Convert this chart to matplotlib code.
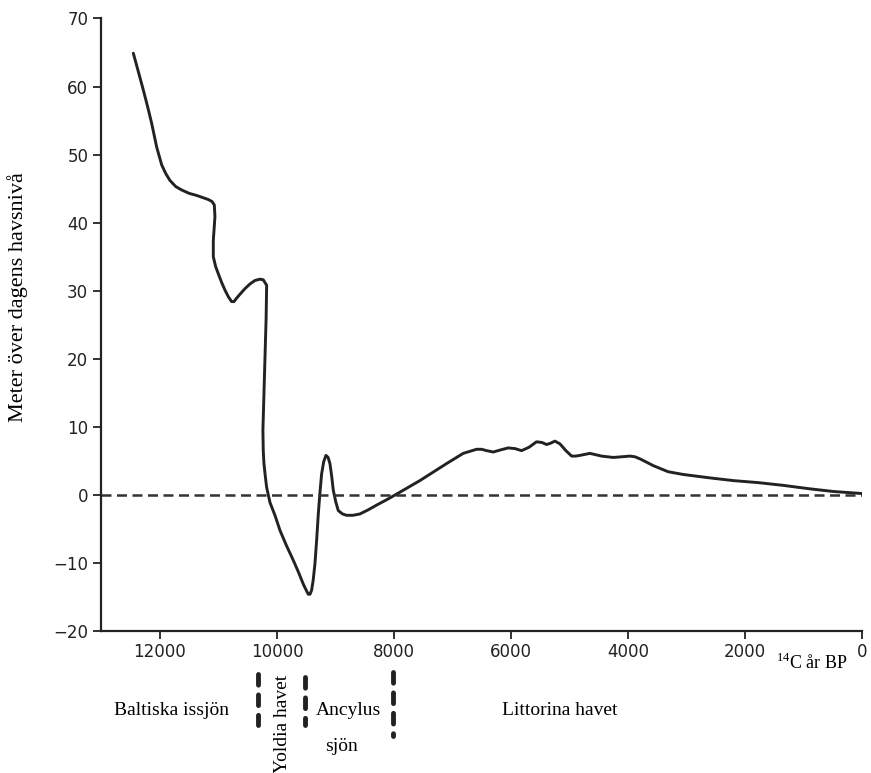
import numpy as np
import matplotlib
matplotlib.use("Agg")
import matplotlib.pyplot as plt

plt.rcParams["mathtext.fontset"] = "custom"
plt.rcParams["mathtext.rm"] = "Liberation Serif"

# shoreline curve (14C years BP, metres above present sea level)
years = [12456, 12370, 12285, 12210, 12142, 12056, 11971, 11900, 11829, 11730, 11629,
         11500, 11373, 11174, 11110, 11071, 11060, 11075, 11088, 11088, 11050, 11003,
         10945, 10889, 10830, 10775, 10735, 10690, 10620, 10547, 10460, 10376, 10290,
         10234, 10176, 10185, 10205, 10225, 10240, 10234, 10222, 10200, 10176, 10120,
         10030, 9949, 9840, 9721, 9630, 9550, 9500, 9465, 9435, 9407, 9380, 9350,
         9320, 9293, 9265, 9236, 9200, 9162, 9125, 9094, 9065, 9037, 8995, 8952,
         8880, 8809, 8700, 8581, 8440, 8296, 8100, 7897, 7556, 7100, 6815, 6587,
         6500, 6416, 6302, 6180, 6046, 5930, 5818, 5690, 5562, 5470, 5390, 5320,
         5248, 5162, 5060, 4962, 4890, 4821, 4650, 4450, 4251, 4100, 3966, 3880,
         3795, 3680, 3567, 3311, 3054, 2600, 2200, 1770, 1345, 900, 490, 0]
level = [64.9, 62.2, 59.5, 57.0, 54.6, 51.1, 48.5, 47.2, 46.2, 45.3, 44.8,
         44.3, 44.0, 43.4, 43.1, 42.6, 40.9, 39.0, 37.4, 35.0, 33.6, 32.5,
         31.2, 30.1, 29.1, 28.4, 28.4, 28.9, 29.6, 30.3, 31.0, 31.5, 31.7,
         31.6, 30.8, 26.0, 20.0, 14.0, 9.5, 6.5, 4.6, 2.8, 1.1, -1.1,
         -3.1, -5.2, -7.4, -9.6, -11.4, -13.1, -14.0, -14.6, -14.6, -14.0, -12.5, -10.1,
         -6.5, -2.8, 0.3, 3.1, 4.9, 5.8, 5.5, 4.6, 2.8, 0.7, -1.0, -2.3,
         -2.8, -3.0, -3.0, -2.8, -2.2, -1.5, -0.6, 0.4, 2.1, 4.6, 6.1, 6.7,
         6.7, 6.5, 6.3, 6.6, 6.9, 6.8, 6.5, 7.0, 7.8, 7.7, 7.4, 7.6,
         7.9, 7.5, 6.5, 5.7, 5.7, 5.8, 6.1, 5.7, 5.5, 5.6, 5.7, 5.6,
         5.3, 4.8, 4.3, 3.4, 3.0, 2.5, 2.1, 1.8, 1.4, 0.9, 0.5, 0.2]

xticks = [12000, 10000, 8000, 6000, 4000, 2000, 0]
yticks = [-20, -10, 0, 10, 20, 30, 40, 50, 60, 70]

# Baltic stages and the boundaries between them
stage_bounds = [10330, 9520, 8020]
stages = ["Baltiska issjön", "Yoldia havet", "Ancylus", "sjön", "Littorina havet"]
stage_x = [11800, 9897, 8780, 8900, 5160]
stage_y = [-31.7, -33.7, -31.7, -36.9, -31.7]
stage_rot = [0, 90, 0, 0, 0]

fig = plt.figure(figsize=(8.71, 7.73), dpi=100)
ax = fig.add_axes([0.1165, 0.1837, 0.873, 0.7924])

ax.plot(years, level, color="#222222", lw=2.1, solid_joinstyle="round",
        solid_capstyle="round")
ax.axhline(0, color="#333333", lw=1.8, ls=(0, (4, 2.2)))

ax.set_xlim(13000, 0)
ax.set_ylim(-20, 70)
ax.set_xticks(xticks)
ax.set_yticks(yticks)
ax.set_yticklabels(["\u221220", "\u221210"] + [str(v) for v in yticks[2:]])
ax.tick_params(labelsize=12, length=6, width=1.3, colors="#222222")
ax.tick_params(axis="x", pad=3)
for lab in ax.get_xticklabels() + ax.get_yticklabels():
    lab.set_family("DejaVu Sans")

for s in ["top", "right"]:
    ax.spines[s].set_visible(False)
for s in ["left", "bottom"]:
    ax.spines[s].set_linewidth(1.6)
    ax.spines[s].set_color("#222222")

ax.set_ylabel("Meter över dagens havsnivå", family="Liberation Serif", fontsize=16)
ax.yaxis.set_label_coords(-0.096, 0.545)

ax.text(850, -24.7, "$^{\\mathrm{14}}$C år BP", family="Liberation Serif", fontsize=13,
        ha="center", va="center", clip_on=False)

for xb, (y0, y1) in zip(stage_bounds, [(-26.3, -33.8), (-26.7, -33.8), (-26.0, -35.5)]):
    ax.plot([xb, xb], [y0, y1], color="#222222", lw=3.5, ls=(0, (2.2, 2.0)),
            dash_capstyle="round", clip_on=False)

for name, x, y, r in zip(stages, stage_x, stage_y, stage_rot):
    ax.text(x, y, name, family="Liberation Serif", fontsize=14, rotation=r,
            ha="center", va="center", clip_on=False)

fig.savefig("out.png", dpi=100)
